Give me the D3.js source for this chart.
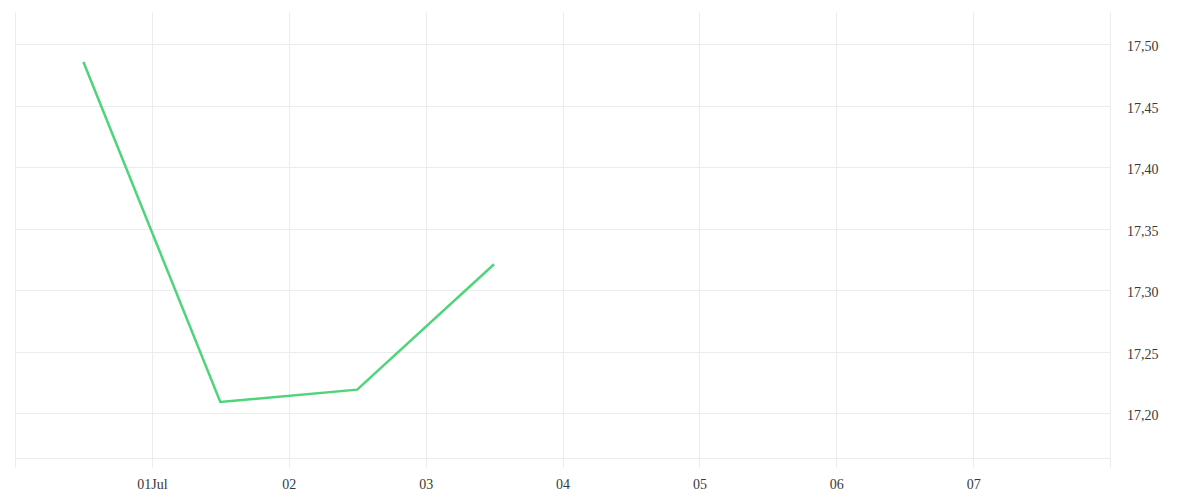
<!DOCTYPE html>
<html><head><meta charset="utf-8">
<script src="https://cdn.jsdelivr.net/npm/d3@7"></script>
<style>
html,body{margin:0;padding:0;background:#fff;}
svg{display:block;}
text{font-family:"Liberation Serif",serif;font-size:14px;fill:#3a3a3a;}
</style></head>
<body>
<svg id="chart" width="1200" height="500"></svg>
<script>
const dates = ["2024-06-30T12:00", "2024-07-01T12:00", "2024-07-02T12:00", "2024-07-03T12:00"];
const values = [17.4855, 17.209, 17.219, 17.321];
const yTicks = [17.20, 17.25, 17.30, 17.35, 17.40, 17.45, 17.50];
const xTickDates = ["2024-07-01", "2024-07-02", "2024-07-03", "2024-07-04", "2024-07-05", "2024-07-06", "2024-07-07"];
const xTickLabels = ["01Jul", "02", "03", "04", "05", "06", "07"];
const xDomain = ["2024-06-30", "2024-07-08"];
const yDomain = [17.1634, 17.5262];

const parse = s => new Date(s);
const svg = d3.select("#chart");
const L = 15, R = 1110, T = 12, B = 458;

const x = d3.scaleTime().domain(xDomain.map(parse)).range([L, R]);
const y = d3.scaleLinear().domain(yDomain).range([B, T]);

const grid = "#ececec";
const g = svg.append("g");

// horizontal gridlines
g.selectAll("line.h").data(yTicks).join("line")
  .attr("x1", L).attr("x2", R)
  .attr("y1", d => Math.round(y(d)) + 0.5).attr("y2", d => Math.round(y(d)) + 0.5)
  .attr("stroke", grid).attr("stroke-width", 1);

// bottom border
g.append("line").attr("x1", L).attr("x2", R).attr("y1", B + 0.5).attr("y2", B + 0.5)
  .attr("stroke", grid);

// vertical gridlines (incl. edges) extending as tick marks
const vx = [parse(xDomain[0])].concat(xTickDates.map(parse), [parse(xDomain[1])]);
g.selectAll("line.v").data(vx).join("line")
  .attr("x1", d => Math.round(x(d)) + 0.5).attr("x2", d => Math.round(x(d)) + 0.5)
  .attr("y1", T).attr("y2", B + 10)
  .attr("stroke", grid).attr("stroke-width", 1);

// x labels
g.selectAll("text.xl").data(xTickDates).join("text")
  .attr("x", d => x(parse(d)) + 0.5).attr("y", 489)
  .attr("text-anchor", "middle")
  .text((d, i) => xTickLabels[i]);

// y labels
g.selectAll("text.yl").data(yTicks).join("text")
  .attr("x", 1127).attr("y", d => y(d) + 7)
  .attr("text-anchor", "start")
  .text(d => d3.format(".2f")(d).replace(".", ","));

// line
const line = d3.line().x(d => x(parse(d[0]))).y(d => y(d[1]));
svg.append("path")
  .datum(dates.map((d, i) => [d, values[i]]))
  .attr("d", line)
  .attr("fill", "none")
  .attr("stroke", "#4fd47c")
  .attr("stroke-width", 2.5)
  .attr("stroke-linejoin", "miter");
</script>
</body></html>
